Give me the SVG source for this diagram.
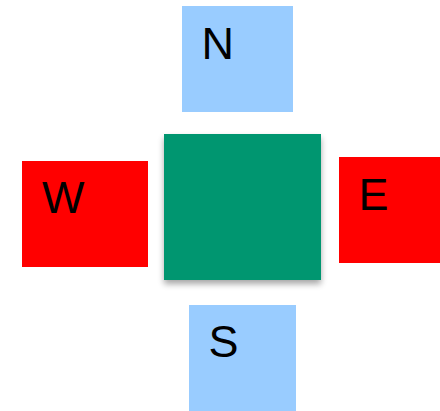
<svg xmlns="http://www.w3.org/2000/svg" width="440" height="411" viewBox="0 0 440 411">
<defs>
<filter id="sh" x="-20%" y="-20%" width="140%" height="140%">
<feGaussianBlur in="SourceAlpha" stdDeviation="3"/>
<feOffset dx="0" dy="4"/>
<feComponentTransfer><feFuncA type="linear" slope="0.35"/></feComponentTransfer>
<feMerge><feMergeNode/><feMergeNode in="SourceGraphic"/></feMerge>
</filter>
</defs>
<style>
.lbl{font-family:"Liberation Sans",Arial,sans-serif;font-size:45px;fill:#000}
.blue{fill:#99ccff}
.red{fill:#ff0000}
</style>
<rect width="440" height="411" fill="#fff"/>
<g id="connectors"></g>
<g id="center"><rect x="164" y="134" width="157" height="146" fill="#009670" filter="url(#sh)"/></g>
<g id="N"><rect class="blue" x="182" y="6" width="111" height="106"/><text class="lbl" x="201.5" y="59">N</text></g>
<g id="W"><rect class="red" x="22" y="161" width="126" height="106"/><text class="lbl" x="42" y="213">W</text></g>
<g id="E"><rect class="red" x="339" y="157" width="101" height="106"/><text class="lbl" x="358.5" y="210">E</text></g>
<g id="S"><rect class="blue" x="189" y="305" width="107" height="106"/><text class="lbl" x="208.5" y="357">S</text></g>
</svg>
